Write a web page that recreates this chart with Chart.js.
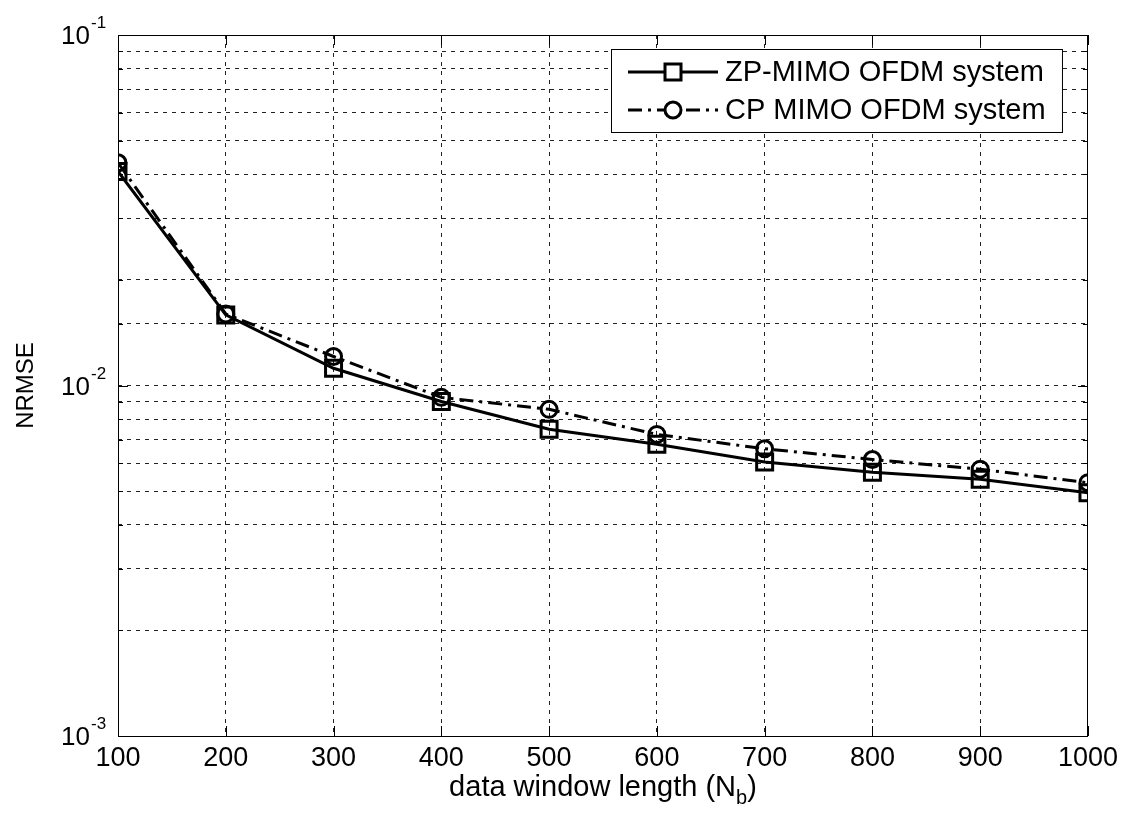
<!DOCTYPE html>
<html>
<head>
<meta charset="utf-8">
<script src="https://cdn.jsdelivr.net/npm/chart.js@4.4.0/dist/chart.umd.min.js"></script>
<style>
  html, body { margin: 0; padding: 0; background: #fff; }
  #wrap { width: 1124px; height: 815px; }
</style>
</head>
<body>
<div id="wrap"><canvas id="myChart" width="1124" height="815"></canvas></div>
<script>
const windowLength = [100, 200, 300, 400, 500, 600, 700, 800, 900, 1000];
const zpNrmse = [0.0408, 0.0159, 0.0112, 0.0090, 0.0075, 0.0068, 0.00605, 0.00566, 0.0054, 0.00494];
const cpNrmse = [0.0432, 0.0160, 0.0121, 0.00925, 0.00855, 0.00725, 0.0066, 0.00615, 0.00577, 0.00528];
const decadeTicks = [0.1, 0.01, 0.001];
const decadeExp = ["-1", "-2", "-3"];
const seriesNames = ["ZP-MIMO OFDM system", "CP MIMO OFDM system"];

const FONT = "'Liberation Sans', Arial, sans-serif";
const ctx = document.getElementById("myChart");

// frame, inner ticks, y labels, x title and the legend box
const matlabLook = {
  id: "matlabLook",
  afterDraw(chart) {
    const c = chart.ctx;
    const a = chart.chartArea;
    const xs = chart.scales.x;
    const ys = chart.scales.y;
    c.save();

    // ticks pointing inward
    c.strokeStyle = "#000";
    c.lineWidth = 1;
    c.setLineDash([]);
    c.beginPath();
    windowLength.forEach((v) => {
      const px = Math.round(xs.getPixelForValue(v)) + 0.5;
      c.moveTo(px, a.bottom); c.lineTo(px, a.bottom - 10);
      c.moveTo(px, a.top); c.lineTo(px, a.top + 10);
    });
    ys.ticks.forEach((t) => {
      const py = Math.round(ys.getPixelForValue(t.value)) + 0.5;
      const len = decadeTicks.includes(t.value) ? 10 : 5;
      c.moveTo(a.left, py); c.lineTo(a.left + len, py);
      c.moveTo(a.right, py); c.lineTo(a.right - len, py);
    });
    c.stroke();

    // box around the axes
    c.strokeRect(Math.round(a.left) + 0.5, Math.round(a.top) + 0.5,
      Math.round(a.right - a.left) - 1, Math.round(a.bottom - a.top));

    // y tick labels as 10^n
    c.fillStyle = "#000";
    decadeTicks.forEach((v, i) => {
      const py = ys.getPixelForValue(v);
      c.font = "26px " + FONT;
      c.textAlign = "right";
      c.textBaseline = "alphabetic";
      c.fillText("10", 90, py + 9);
      c.font = "17px " + FONT;
      c.textAlign = "left";
      c.fillText(decadeExp[i], 91, py - 7);
    });

    // y title
    c.save();
    c.translate(33, (a.top + a.bottom) / 2);
    c.rotate(-Math.PI / 2);
    c.font = "24px " + FONT;
    c.textAlign = "center";
    c.fillText("NRMSE", 0, 0);
    c.restore();

    // x title with subscript
    c.font = "29px " + FONT;
    const t1 = "data window length (N";
    const w1 = c.measureText(t1).width;
    c.font = "20px " + FONT;
    const w2 = c.measureText("b").width;
    c.font = "29px " + FONT;
    const w3 = c.measureText(")").width;
    let sx = (a.left + a.right) / 2 - (w1 + w2 + w3) / 2;
    const by = 796;
    c.textAlign = "left";
    c.fillText(t1, sx, by);
    c.font = "20px " + FONT;
    c.fillText("b", sx + w1, by + 8);
    c.font = "29px " + FONT;
    c.fillText(")", sx + w1 + w2, by);

    // legend
    const lx = 611, ly = 49, lw = a.right - 26 - 611, lh = 83;
    c.fillStyle = "#fff";
    c.fillRect(lx, ly, lw, lh);
    c.strokeStyle = "#000";
    c.lineWidth = 1;
    c.strokeRect(lx + 0.5, ly + 0.5, lw, lh);
    const rows = [72, 110];
    chart.data.datasets.forEach((ds, i) => {
      const ry = rows[i];
      c.strokeStyle = "#000";
      c.lineWidth = 3;
      c.setLineDash(ds.borderDash || []);
      c.beginPath();
      c.moveTo(628, ry); c.lineTo(718, ry);
      c.stroke();
      c.setLineDash([]);
      c.lineWidth = 3;
      c.fillStyle = "#fff";
      c.beginPath();
      if (ds.pointStyle === "rect") {
        c.rect(673 - 8, ry - 8, 16, 16);
      } else {
        c.arc(673, ry, 8, 0, Math.PI * 2);
      }
      c.fill();
      c.stroke();
      c.fillStyle = "#000";
      c.font = "29px " + FONT;
      c.textAlign = "left";
      c.textBaseline = "middle";
      c.fillText(seriesNames[i], 725, ry + 1);
    });
    c.restore();
  },
};

new Chart(ctx, {
  type: "line",
  data: {
    labels: windowLength,
    datasets: [
      {
        label: seriesNames[0],
        data: windowLength.map((x, i) => ({ x: x, y: zpNrmse[i] })),
        borderColor: "#000",
        borderWidth: 3,
        pointStyle: "rect",
        pointRadius: 11.3,
        pointBorderWidth: 3,
        pointBackgroundColor: "rgba(0,0,0,0)",
        pointBorderColor: "#000",
        tension: 0,
      },
      {
        label: seriesNames[1],
        data: windowLength.map((x, i) => ({ x: x, y: cpNrmse[i] })),
        borderColor: "#000",
        borderWidth: 3,
        borderDash: [14, 6, 3, 6],
        pointStyle: "circle",
        pointRadius: 8,
        pointBorderWidth: 3,
        pointBackgroundColor: "rgba(0,0,0,0)",
        pointBorderColor: "#000",
        tension: 0,
      },
    ],
  },
  options: {
    responsive: false,
    animation: false,
    layout: { padding: { top: 35, right: 36, left: 0, bottom: 0 } },
    plugins: {
      legend: { display: false },
      tooltip: { enabled: false },
    },
    scales: {
      x: {
        type: "linear",
        min: 100,
        max: 1000,
        afterFit: (scale) => { scale.height = 79; },
        ticks: {
          stepSize: 100,
          color: "#000",
          font: { family: FONT, size: 27 },
          padding: 6,
          maxRotation: 0,
          callback: (v) => String(v),
        },
        grid: {
          color: "#222",
          lineWidth: 1,
          drawTicks: false,
        },
        border: { display: false, dash: [4, 5] },
      },
      y: {
        type: "logarithmic",
        min: 0.001,
        max: 0.1,
        afterFit: (scale) => { scale.width = 118; },
        ticks: { display: false },
        grid: {
          color: "#222",
          lineWidth: 1,
          drawTicks: false,
        },
        border: { display: false, dash: [4, 5] },
      },
    },
  },
  plugins: [matlabLook],
});
</script>
</body>
</html>
